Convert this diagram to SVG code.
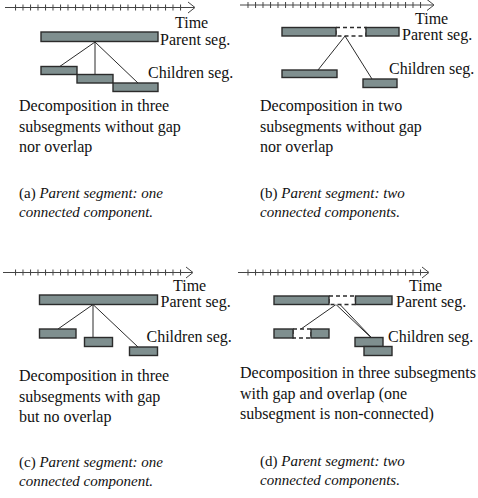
<svg xmlns="http://www.w3.org/2000/svg" width="478" height="498" viewBox="0 0 478 498">
<defs>
<style>
.axis{stroke:#444;stroke-width:1;fill:none}
.bar{fill:#7f8f8f;stroke:#2b2b2b;stroke-width:1.4}
.gap{fill:#fff;stroke:#2b2b2b;stroke-width:1.4;stroke-dasharray:4 3}
.link{stroke:#2b2b2b;stroke-width:1;fill:none}
.lbl{font-family:"Liberation Serif","Times New Roman",serif;font-size:16px;fill:#111}
.cap{font-family:"Liberation Serif","Times New Roman",serif;font-size:15px;fill:#111}
.it{font-style:italic}
</style>
<pattern id="ticks" x="0" y="0" width="7.5" height="20" patternUnits="userSpaceOnUse">
<line x1="0.5" y1="0" x2="0.5" y2="20" stroke="#444" stroke-width="1"/>
</pattern>
</defs>

<!-- Panel (a) -->
<g id="axis-a">
<line class="axis" x1="5" y1="7.5" x2="194" y2="7.5"/>
<rect x="13" y="4.5" width="174" height="6" fill="url(#ticks)"/>
<polyline class="axis" points="188,2 195,7.5 188,13"/>
<text class="lbl" x="175" y="27.5">Time</text>
</g>
<g id="connectors-a">
<line class="link" x1="95" y1="42" x2="59" y2="67"/>
<line class="link" x1="95" y1="42" x2="95" y2="74"/>
<line class="link" x1="95" y1="42" x2="138" y2="83"/>
</g>
<g id="parent-a">
<rect class="bar" x="41" y="32" width="117" height="9.5"/>
<text class="lbl" x="160" y="45">Parent seg.</text>
</g>
<g id="children-a">
<rect class="bar" x="41" y="66.5" width="36" height="8"/>
<rect class="bar" x="77" y="74.5" width="36" height="8.5"/>
<rect class="bar" x="113" y="83" width="45" height="8.5"/>
<text class="lbl" x="148" y="78">Children seg.</text>
</g>
<g id="desc-a">
<text class="lbl" x="19" y="111">Decomposition in three</text>
<text class="lbl" x="19" y="131.5">subsegments without gap</text>
<text class="lbl" x="19" y="152">nor overlap</text>
<text class="cap" x="19" y="198">(a) <tspan class="it">Parent segment: one</tspan></text>
<text class="cap it" x="19" y="217">connected component.</text>
</g>

<!-- Panel (b) -->
<g id="axis-b">
<line class="axis" x1="240" y1="5" x2="433" y2="5"/>
<rect x="246" y="2" width="180" height="6" fill="url(#ticks)"/>
<polyline class="axis" points="427,-0.5 434,5 427,10.5"/>
<text class="lbl" x="415" y="24">Time</text>
</g>
<g id="connectors-b">
<line class="link" x1="345" y1="36" x2="318" y2="70"/>
<line class="link" x1="345" y1="36" x2="372" y2="79"/>
</g>
<g id="parent-b">
<rect class="gap" x="336" y="27.5" width="30" height="8.5"/>
<rect class="bar" x="282" y="27.5" width="54" height="8.5"/>
<rect class="bar" x="366" y="27.5" width="33" height="8.5"/>
<text class="lbl" x="402" y="39.5">Parent seg.</text>
</g>
<g id="children-b">
<rect class="bar" x="282" y="70" width="55" height="7.5"/>
<rect class="bar" x="363" y="79" width="34" height="8.5"/>
<text class="lbl" x="389" y="74">Children seg.</text>
</g>
<g id="desc-b">
<text class="lbl" x="260" y="111">Decomposition in two</text>
<text class="lbl" x="260" y="131.5">subsegments without gap</text>
<text class="lbl" x="260" y="152">nor overlap</text>
<text class="cap" x="260" y="198">(b) <tspan class="it">Parent segment: two</tspan></text>
<text class="cap it" x="260" y="217">connected components.</text>
</g>

<!-- Panel (c) -->
<g id="axis-c">
<line class="axis" x1="3" y1="272.5" x2="192" y2="272.5"/>
<rect x="11" y="269.5" width="174" height="6" fill="url(#ticks)"/>
<polyline class="axis" points="186,267 193,272.5 186,278"/>
<text class="lbl" x="173" y="290.5">Time</text>
</g>
<g id="connectors-c">
<line class="link" x1="93" y1="304.5" x2="58" y2="329"/>
<line class="link" x1="93" y1="304.5" x2="93" y2="337.5"/>
<line class="link" x1="93" y1="304.5" x2="138" y2="347"/>
</g>
<g id="parent-c">
<rect class="bar" x="39.5" y="295" width="118" height="9.5"/>
<text class="lbl" x="160.5" y="307">Parent seg.</text>
</g>
<g id="children-c">
<rect class="bar" x="39.5" y="329" width="36.5" height="9"/>
<rect class="bar" x="84.5" y="337.5" width="28" height="9"/>
<rect class="bar" x="129.5" y="347" width="28" height="8.5"/>
<text class="lbl" x="146.5" y="341.5">Children seg.</text>
</g>
<g id="desc-c">
<text class="lbl" x="19" y="381">Decomposition in three</text>
<text class="lbl" x="19" y="401.5">subsegments with gap</text>
<text class="lbl" x="19" y="422">but no overlap</text>
<text class="cap" x="19" y="467">(c) <tspan class="it">Parent segment: one</tspan></text>
<text class="cap it" x="19" y="486">connected component.</text>
</g>

<!-- Panel (d) -->
<g id="axis-d">
<line class="axis" x1="238" y1="272.5" x2="428" y2="272.5"/>
<rect x="245" y="269.5" width="176" height="6" fill="url(#ticks)"/>
<polyline class="axis" points="422,267 429,272.5 422,278"/>
<text class="lbl" x="409" y="290.5">Time</text>
</g>
<g id="connectors-d">
<line class="link" x1="336" y1="304.5" x2="301" y2="329"/>
<line class="link" x1="336" y1="304.5" x2="381" y2="347"/>
<line class="link" x1="340" y1="304.5" x2="388" y2="355"/>
</g>
<g id="parent-d">
<rect class="gap" x="329" y="296" width="26.5" height="8.5"/>
<rect class="bar" x="274" y="296" width="55" height="8.5"/>
<rect class="bar" x="355.5" y="296" width="36.5" height="8.5"/>
<text class="lbl" x="396" y="307">Parent seg.</text>
</g>
<g id="children-d">
<rect class="gap" x="293" y="329" width="18" height="9"/>
<rect class="bar" x="274" y="329" width="19" height="9"/>
<rect class="bar" x="311" y="329" width="18" height="9"/>
<rect class="bar" x="355" y="337.5" width="28" height="9"/>
<rect class="bar" x="364" y="346.5" width="28" height="9"/>
<text class="lbl" x="388" y="341.5">Children seg.</text>
</g>
<g id="desc-d">
<text class="lbl" x="240" y="378">Decomposition in three subsegments</text>
<text class="lbl" x="240" y="398.5">with gap and overlap (one</text>
<text class="lbl" x="240" y="419">subsegment is non-connected)</text>
<text class="cap" x="260" y="466">(d) <tspan class="it">Parent segment: two</tspan></text>
<text class="cap it" x="260" y="485">connected components.</text>
</g>
</svg>
